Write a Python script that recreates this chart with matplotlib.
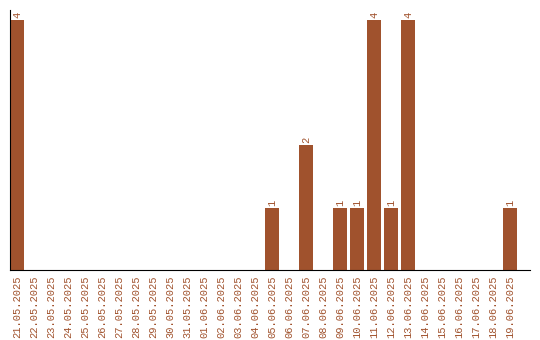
import matplotlib
matplotlib.use("Agg")
import matplotlib.pyplot as plt

# dates and counts
dates = ["21.05.2025", "22.05.2025", "23.05.2025", "24.05.2025", "25.05.2025",
         "26.05.2025", "27.05.2025", "28.05.2025", "29.05.2025", "30.05.2025",
         "31.05.2025", "01.06.2025", "02.06.2025", "03.06.2025", "04.06.2025",
         "05.06.2025", "06.06.2025", "07.06.2025", "08.06.2025", "09.06.2025",
         "10.06.2025", "11.06.2025", "12.06.2025", "13.06.2025", "14.06.2025",
         "15.06.2025", "16.06.2025", "17.06.2025", "18.06.2025", "19.06.2025"]
counts = [4, 0, 0, 0, 0, 0, 0, 0, 0, 0,
          0, 0, 0, 0, 0, 1, 0, 2, 0, 1,
          1, 4, 1, 4, 0, 0, 0, 0, 0, 1]

color = "#A0522D"
font = "Liberation Mono"

fig = plt.figure(figsize=(5.4, 3.4), dpi=100)
ax = fig.add_axes([10 / 540, 70 / 340, 520 / 540, 260 / 340])

x = list(range(len(dates)))
ax.bar(x, counts, width=0.82, color=color)

for xi, c in zip(x, counts):
    if c > 0:
        ax.text(xi, c + 0.03, str(c), rotation=90, ha="center", va="bottom",
                color=color, fontsize=7.5, family=font)

ax.set_xlim(-0.41, 30.18)
ax.set_ylim(0, 4.16)
ax.set_xticks(x)
ax.set_xticklabels(dates, rotation=90, color=color, fontsize=7.5, family=font)
ax.tick_params(axis="x", length=0, pad=4)
ax.set_yticks([])
ax.spines["top"].set_visible(False)
ax.spines["right"].set_visible(False)

fig.savefig("out.png", dpi=100)
